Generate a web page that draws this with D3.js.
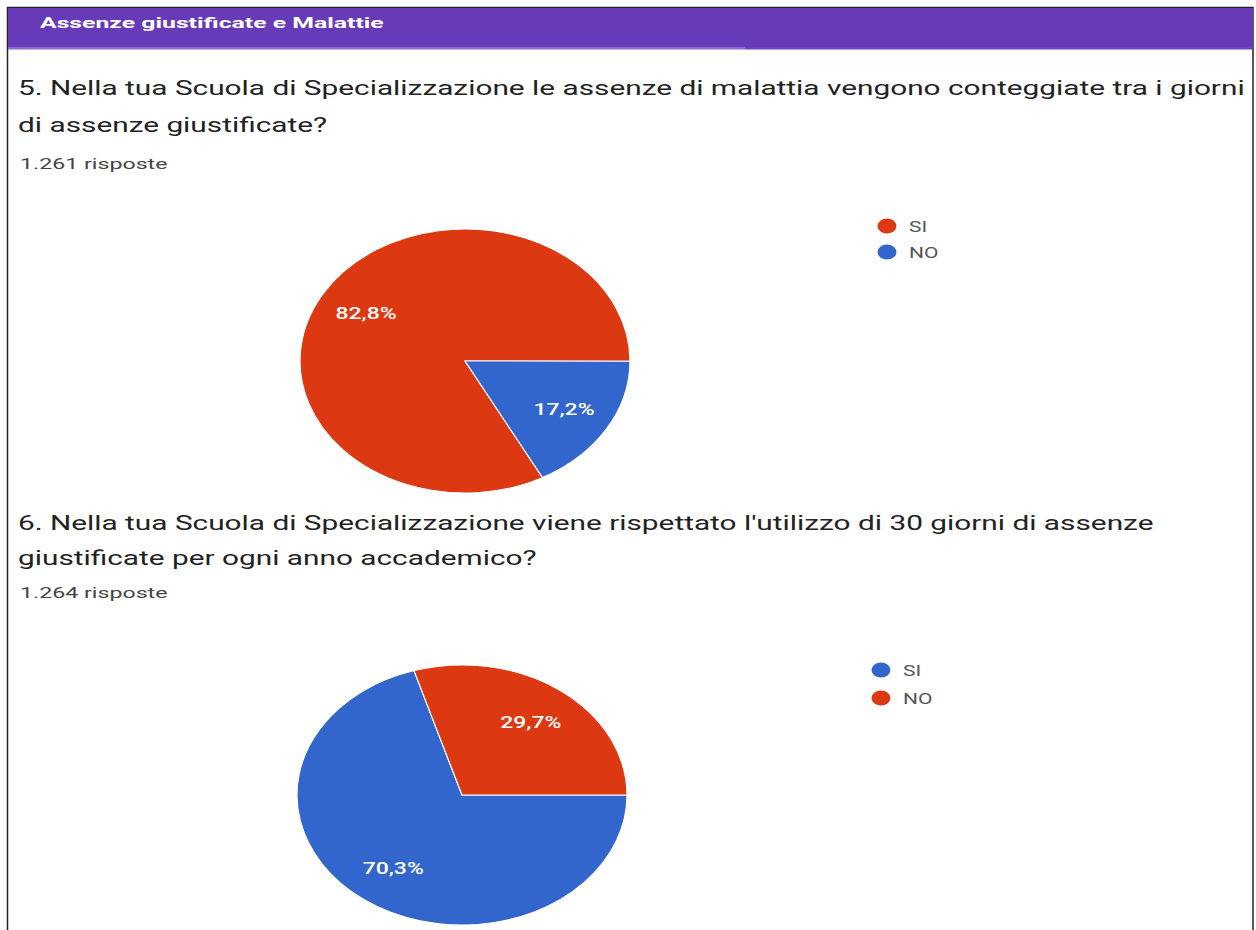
<!DOCTYPE html>
<html>
<head>
<meta charset="utf-8">
<script src="https://cdn.jsdelivr.net/npm/d3@7"></script>
<style>
  html, body { margin: 0; padding: 0; background: #ffffff; }
  svg { display: block; }
</style>
</head>
<body>
<svg id="chart" width="1256" height="930"></svg>
<script>
// ---- data ----
const sectionTitle = "Assenze giustificate e Malattie";
const q5Lines = [
  "5. Nella tua Scuola di Specializzazione le assenze di malattia vengono conteggiate tra i giorni",
  "di assenze giustificate?"
];
const q5Count = "1.261 risposte";
const q5Categories = ["SI", "NO"];
const q5Values = [82.8, 17.2];
const q5Colors = ["#dc3912", "#3366cc"];

const q6Lines = [
  "6. Nella tua Scuola di Specializzazione viene rispettato l'utilizzo di 30 giorni di assenze",
  "giustificate per ogni anno accademico?"
];
const q6Count = "1.264 risposte";
const q6Categories = ["SI", "NO"];
const q6Values = [70.3, 29.7];
const q6Colors = ["#3366cc", "#dc3912"];

// ---- layout ----
const svg = d3.select("#chart");
const fontFam = "Roboto, 'Liberation Sans', Arial, sans-serif";

// frame
svg.append("rect").attr("x", 7.5).attr("y", 7.5).attr("width", 1245.5).attr("height", 930)
  .attr("fill", "#ffffff").attr("stroke", "#222").attr("stroke-width", 1.5);

// header bar
svg.append("rect").attr("x", 8).attr("y", 8).attr("width", 1244.5).attr("height", 40).attr("fill", "#673ab7");
svg.append("rect").attr("x", 8).attr("y", 47).attr("width", 737).attr("height", 2.5).attr("fill", "#8b6bd0");
svg.append("rect").attr("x", 745).attr("y", 47).attr("width", 507.5).attr("height", 2.5).attr("fill", "#6a45bd");

function stext(x, y, str, opts) {
  return svg.append("text")
    .attr("transform", `translate(${x},${y}) scale(${opts.sx},1)`)
    .attr("font-family", fontFam)
    .attr("font-size", opts.size)
    .attr("font-weight", opts.weight || "normal")
    .attr("fill", opts.color)
    .attr("text-anchor", opts.anchor || "start")
    .text(str);
}

stext(40, 28, sectionTitle, {size: 15.5, weight: "bold", color: "#ffffff", sx: 1.6});

function drawQuestion(lines, count, y0, lineGap, countGap) {
  lines.forEach((l, i) => stext(18, y0 + i * lineGap, l, {size: 21, color: "#222", sx: 1.42}));
  stext(20, y0 + countGap, count, {size: 14.5, color: "#444", sx: 1.6});
}
drawQuestion(q5Lines, q5Count, 95, 37, 74);
drawQuestion(q6Lines, q6Count, 530, 35, 68);

function drawPie(cats, vals, colors, cx, cy, rx, ry, startDeg, legendX, legendY, legendGap) {
  const data = cats.map((c, i) => ({cat: c, value: vals[i], color: colors[i]}));
  const pie = d3.pie().sort(null).value(d => d.value)
    .startAngle(startDeg * Math.PI / 180)
    .endAngle(startDeg * Math.PI / 180 + 2 * Math.PI);
  const arcs = pie(data);
  const arc = d3.arc().innerRadius(0).outerRadius(rx);
  const g = svg.append("g").attr("transform", `translate(${cx},${cy}) scale(1,${ry / rx})`);
  g.selectAll("path").data(arcs).join("path")
    .attr("d", arc)
    .attr("fill", d => d.data.color)
    .attr("stroke", "#ffffff")
    .attr("stroke-width", 1.2);
  const labelArc = d3.arc().innerRadius(rx * 0.7).outerRadius(rx * 0.7);
  arcs.forEach(a => {
    const [lx, ly] = labelArc.centroid(a);
    stext(cx + lx, cy + ly * ry / rx + 6, d3.format(".1f")(a.data.value).replace(".", ",") + "%",
      {size: 17, weight: 500, color: "#ffffff", anchor: "middle", sx: 1.35});
  });
  // legend
  data.forEach((d, i) => {
    const y = legendY + i * legendGap;
    svg.append("ellipse").attr("cx", legendX).attr("cy", y).attr("rx", 9.5).attr("ry", 7.5).attr("fill", d.color);
    stext(legendX + 22, y + 5.5, d.cat, {size: 15, color: "#555", sx: 1.4});
  });
}

drawPie(q5Categories, q5Values, q5Colors, 465, 361, 165, 132, 152, 887, 226, 26);
drawPie(q6Categories, q6Values, q6Colors, 462, 795, 165, 130, 90, 881, 670, 28);
</script>
</body>
</html>
